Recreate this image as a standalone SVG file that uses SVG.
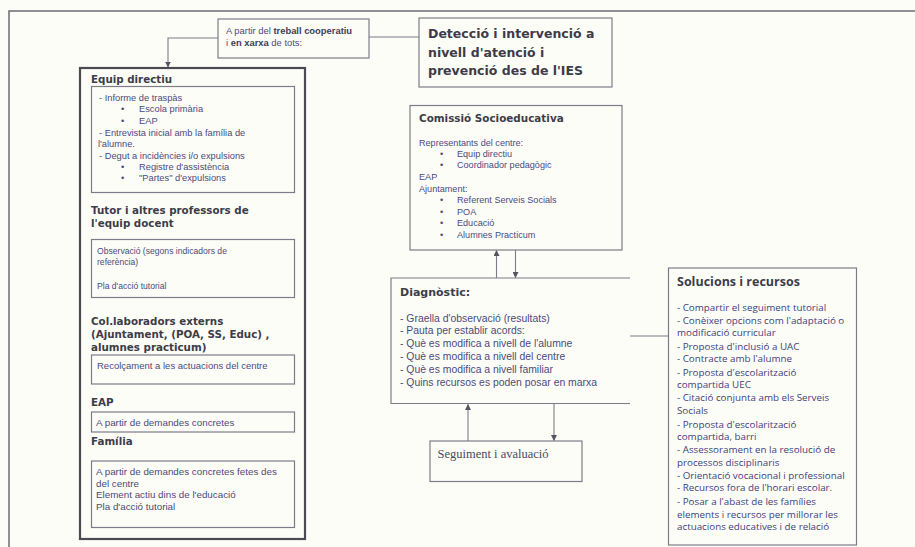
<svg xmlns="http://www.w3.org/2000/svg" width="915" height="547" viewBox="0 0 915 547">
<style>
.bg{fill:#fdfdf8}
.frame{fill:none;stroke:#6b6b73;stroke-width:1.5}
.box{fill:none;stroke:#7c7c88;stroke-width:1.2}
.big{fill:none;stroke:#4a4a52;stroke-width:2.2}
.ln{fill:none;stroke:#7c7c88;stroke-width:1.1}
.h{font-family:"DejaVu Sans",Verdana,sans-serif;font-weight:bold;fill:#3c3c48}
.lh{font-size:10.3px}
.t{font-family:"Liberation Sans",Arial,sans-serif;fill:#4a4a7a}
.so{font-family:"Open Sans","Liberation Sans",sans-serif;font-size:9.8px;fill:#40407a}
.sh{font-family:"Open Sans","DejaVu Sans",sans-serif;font-weight:bold;font-size:12.5px;fill:#3c3c48}
.b{font-weight:bold;fill:#3c3c55}
.serif{font-family:"Liberation Serif","Times New Roman",serif;font-size:12.5px;fill:#4a4a5a}
</style>
<defs>
<marker id="ah" viewBox="0 0 10 10" refX="9" refY="5" markerWidth="6" markerHeight="6" orient="auto-start-reverse" markerUnits="userSpaceOnUse">
<path d="M0,0 L10,5 L0,10 z" fill="#55555f"/>
</marker>
</defs>
<rect class="bg" x="0" y="0" width="915" height="547"/>
<path class="frame" d="M9,547 V11 H915"/>

<g id="connectors">
<path class="ln" d="M218,38 H168 V67" marker-end="url(#ah)"/>
<path class="ln" d="M369,37 H419"/>
<path class="ln" d="M496.5,278 V250.5" marker-end="url(#ah)"/>
<path class="ln" d="M515.5,250 V277.5" marker-end="url(#ah)"/>
<path class="ln" d="M630,336 H668"/>
<path class="ln" d="M468,441 V404.5" marker-end="url(#ah)"/>
<path class="ln" d="M554,404 V440.5" marker-end="url(#ah)"/>
</g>

<g id="cooperatiu">
<rect class="box" x="218" y="19" width="151" height="39"/>
<text class="t" x="226" y="34" font-size="9.4">A partir del <tspan class="b">treball cooperatiu</tspan></text>
<text class="t" x="226" y="46" font-size="9.4">i <tspan class="b">en xarxa</tspan> de tots:</text>
</g>

<g id="titol">
<rect class="box" x="419" y="18" width="193" height="69"/>
<text class="h" x="428" y="38" font-size="12.5px">Detecció i intervenció a</text>
<text class="h" x="428" y="57" font-size="12.5px">nivell d'atenció i</text>
<text class="h" x="428" y="75" font-size="12.5px">prevenció des de l'IES</text>
</g>

<g id="agents">
<rect class="big" x="80" y="68" width="225" height="471"/>
<text class="h lh" x="91" y="83">Equip directiu</text>
<rect class="box" x="91.5" y="86.5" width="203" height="106"/>
<g class="t" font-size="9.3">
<text x="99" y="101">- Informe de traspàs</text>
<text x="121" y="112">•</text><text x="139" y="112">Escola primària</text>
<text x="121" y="124">•</text><text x="139" y="124">EAP</text>
<text x="99" y="136">- Entrevista inicial amb la família de</text>
<text x="98" y="147">l'alumne.</text>
<text x="99" y="159">- Degut a incidències i/o expulsions</text>
<text x="121" y="170">•</text><text x="139" y="170">Registre d'assistència</text>
<text x="121" y="181">•</text><text x="139" y="181">"Partes" d'expulsions</text>
</g>
<text class="h lh" x="91" y="214">Tutor i altres professors de</text>
<text class="h lh" x="91" y="227">l'equip docent</text>
<rect class="box" x="91.5" y="239.5" width="203" height="58"/>
<g class="t" font-size="8.6">
<text x="97" y="254">Observació (segons indicadors de</text>
<text x="97" y="265">referència)</text>
<text x="97" y="289">Pla d'acció tutorial</text>
</g>
<text class="h lh" x="91" y="325">Col.laboradors externs</text>
<text class="h lh" x="91" y="338">(Ajuntament, (POA, SS, Educ) ,</text>
<text class="h lh" x="91" y="351">alumnes practicum)</text>
<rect class="box" x="91.5" y="355" width="203" height="29"/>
<text class="t" font-size="9.5" x="97" y="369">Recolçament a les actuacions del centre</text>
<text class="h lh" x="91" y="406">EAP</text>
<rect class="box" x="91.5" y="412" width="203" height="20"/>
<text class="t" font-size="9.8" x="96" y="426">A partir de demandes concretes</text>
<text class="h lh" x="91" y="445">Família</text>
<rect class="box" x="91.5" y="461" width="203" height="66.5"/>
<g class="t" font-size="9.8">
<text x="96" y="475">A partir de demandes concretes fetes des</text>
<text x="96" y="487">del centre</text>
<text x="96" y="498">Element actiu dins de l'educació</text>
<text x="96" y="510">Pla d'acció tutorial</text>
</g>
</g>

<g id="comissio">
<rect class="box" x="410" y="105.5" width="212" height="144.5"/>
<text class="h" x="419" y="122" font-size="10.4px">Comissió Socioeducativa</text>
<g class="t" font-size="9.1">
<text x="419" y="146">Representants del centre:</text>
<text x="440" y="157">•</text><text x="457" y="157">Equip directiu</text>
<text x="440" y="168">•</text><text x="457" y="168">Coordinador pedagògic</text>
<text x="419" y="180">EAP</text>
<text x="419" y="192">Ajuntament:</text>
<text x="440" y="203">•</text><text x="457" y="203">Referent Serveis Socials</text>
<text x="440" y="215">•</text><text x="457" y="215">POA</text>
<text x="440" y="226">•</text><text x="457" y="226">Educació</text>
<text x="440" y="238">•</text><text x="457" y="238">Alumnes Practicum</text>
</g>
</g>

<g id="diagnostic">
<path class="box" d="M630,278 H391 V403.5 H630"/>
<text class="h" x="400" y="296" font-size="11px">Diagnòstic:</text>
<g class="t" font-size="10.4">
<text x="400" y="322">- Graella d'observació (resultats)</text>
<text x="400" y="334">- Pauta per establir acords:</text>
<text x="400" y="347">- Què es modifica a nivell de l'alumne</text>
<text x="400" y="360">- Què es modifica a nivell del  centre</text>
<text x="400" y="373">- Què es modifica a nivell familiar</text>
<text x="400" y="386">- Quins recursos es poden posar en marxa</text>
</g>
</g>

<g id="seguiment">
<rect class="box" x="430" y="441" width="152" height="40.5"/>
<text class="serif" x="437.5" y="457.5">Seguiment i avaluació</text>
</g>

<g id="solucions">
<rect class="box" x="668.5" y="268" width="188" height="277"/>
<text class="sh" x="677" y="286">Solucions i recursos</text>
<g class="so">
<text x="677" y="311">- Compartir el seguiment tutorial</text>
<text x="677" y="324">- Conèixer opcions com l'adaptació o</text>
<text x="677" y="336">modificació curricular</text>
<text x="677" y="350">- Proposta d'inclusió a UAC</text>
<text x="677" y="362">- Contracte amb l'alumne</text>
<text x="677" y="376">- Proposta d'escolarització</text>
<text x="677" y="388">compartida UEC</text>
<text x="677" y="401">- Citació conjunta amb els Serveis</text>
<text x="677" y="414">Socials</text>
<text x="677" y="428">- Proposta d'escolarització</text>
<text x="677" y="440">compartida, barri</text>
<text x="677" y="453">- Assessorament en la resolució de</text>
<text x="677" y="466">processos disciplinaris</text>
<text x="677" y="479">- Orientació vocacional i professional</text>
<text x="677" y="491">- Recursos fora de l'horari escolar.</text>
<text x="677" y="505">- Posar a l'abast de les famílies</text>
<text x="677" y="518">elements i recursos per millorar les</text>
<text x="677" y="530">actuacions educatives i de relació</text>
</g>
</g>
</svg>
